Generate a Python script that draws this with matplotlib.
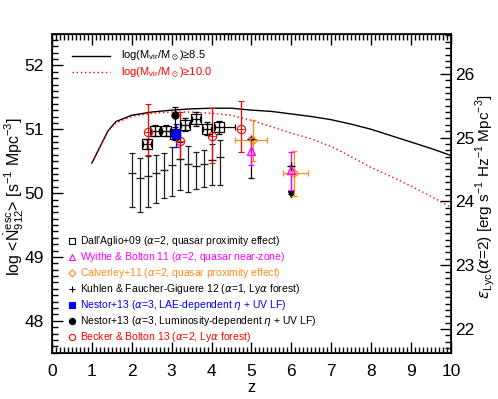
import matplotlib
matplotlib.use("Agg")
import matplotlib.pyplot as plt
from matplotlib.ticker import MultipleLocator

plt.rcParams['font.family'] = ['Liberation Sans', 'DejaVu Sans']
plt.rcParams['mathtext.fontset'] = 'custom'
plt.rcParams['mathtext.rm'] = 'Liberation Sans'
plt.rcParams['mathtext.it'] = 'DejaVu Sans:italic'
plt.rcParams['mathtext.fallback'] = 'stixsans'

# model curves
z_curve = [1.0, 1.4, 1.6, 2.0, 2.5, 3.0, 3.5, 4.0, 4.5, 5.0, 5.5, 6.0,
           6.5, 7.0, 7.5, 8.0, 8.5, 9.0, 9.5, 10.0]
n_85 = [50.47, 50.97, 51.12, 51.22, 51.27, 51.30, 51.32, 51.33, 51.33, 51.30,
        51.28, 51.24, 51.20, 51.15, 51.08, 51.00, 50.90, 50.80, 50.70, 50.59]
n_100 = [50.47, 50.97, 51.10, 51.20, 51.25, 51.27, 51.27, 51.25, 51.22, 51.14,
         51.04, 50.94, 50.85, 50.73, 50.57, 50.40, 50.26, 50.11, 49.95, 49.78]

# Dall'Aglio+09
da_z = [2.38, 2.59, 2.86, 3.09, 3.33, 3.61, 3.89, 4.19]
da_n = [50.77, 50.98, 50.98, 50.93, 51.07, 51.16, 51.01, 51.03]
da_zlo = [0.1, 0.1, 0.1, 0.1, 0.1, 0.1, 0.1, 0.1]
da_zhi = [0.1, 0.1, 0.1, 0.1, 0.1, 0.1, 0.1, 0.4]
da_err = [0.08, 0.09, 0.09, 0.1, 0.1, 0.11, 0.1, 0.1]

# Wyithe & Bolton 11
wb_z = [5.0, 6.0]
wb_n = [50.66, 50.36]
wb_lo = [0.22, 0.31]
wb_hi = [0.22, 0.29]

# Calverley+11
cv_z = [5.05, 6.06]
cv_n = [50.83, 50.32]
cv_zlo = [0.45, 0.26]
cv_zhi = [0.34, 0.36]
cv_lo = [0.32, 0.37]
cv_hi = [0.32, 0.34]

# Kuhlen & Faucher-Giguere 12
kf_z = [2.0, 2.2, 2.4, 2.6, 2.8, 3.0, 3.2, 3.4, 3.6, 3.8, 4.0, 4.2]
kf_n = [50.31, 50.24, 50.27, 50.31, 50.36, 50.44, 50.53, 50.45, 50.42, 50.45,
        50.52, 50.56]
kf_top = [50.63, 50.55, 50.58, 50.60, 50.63, 50.72, 50.80, 50.74, 50.65, 50.67,
          50.77, 50.83]
kf_bot = [49.79, 49.71, 49.79, 49.85, 49.92, 49.96, 50.05, 50.02, 50.06, 50.09,
          50.12, 50.13]
kf_hz_z = [5.0, 6.0]
kf_hz_n = [50.84, 50.43]
kf_hz_bot = [50.24, 49.98]

# Nestor+13
nl_z, nl_n, nl_lo, nl_hi = [3.1], [50.93], [0.21], [0.16]
nc_z, nc_n, nc_lo, nc_hi = [3.09], [51.22], [0.25], [0.13]

# Becker & Bolton 13
bb_z = [2.4, 3.2, 4.0, 4.75]
bb_n = [50.96, 50.81, 50.89, 51.0]
bb_lo = [0.37, 0.28, 0.42, 0.36]
bb_hi = [0.44, 0.46, 0.45, 0.44]

orange = '#ff8c1a'
fig = plt.figure(figsize=(4.98, 3.99), dpi=100)
ax = fig.add_axes([0.1044, 0.116, 0.801, 0.800])

ax.plot(z_curve, n_85, color='black', lw=1.0)
ax.plot(z_curve, n_100, color='red', lw=1.0, ls=(0, (1, 2)))

eb = dict(capsize=2.5, elinewidth=0.9, capthick=0.9, ls='none')
kf_lo = [c - b for c, b in zip(kf_n, kf_bot)]
kf_hi = [t - c for c, t in zip(kf_n, kf_top)]
ax.errorbar(kf_z, kf_n, yerr=[kf_lo, kf_hi], color='#222222', marker='_',
            ms=6, **eb)
ax.errorbar(kf_hz_z, kf_hz_n,
            yerr=[[c - b for c, b in zip(kf_hz_n, kf_hz_bot)], [0, 0]],
            color='black', marker='+', ms=6, **eb)
ax.plot(kf_hz_z[1:], kf_hz_bot[1:], marker='v', color='black', ms=4, ls='none')

ax.errorbar(da_z, da_n, xerr=[da_zlo, da_zhi], yerr=da_err, color='black',
            marker='s', mfc='none', ms=6.5, mew=0.9, **eb)
ax.plot(da_z, da_n, marker='+', color='black', ms=6.5, ls='none', mew=0.8)

ax.errorbar(bb_z, bb_n, yerr=[bb_lo, bb_hi], color='red', marker='o',
            mfc='none', ms=6, mew=0.8, **eb)
ax.plot(bb_z, bb_n, marker='+', color='red', ms=6, ls='none', mew=0.6)

ax.errorbar(cv_z, cv_n, xerr=[cv_zlo, cv_zhi], yerr=[cv_lo, cv_hi], color=orange,
            marker='D', mfc='none', ms=4, **eb)
ax.errorbar(wb_z, wb_n, yerr=[wb_lo, wb_hi], color='magenta', marker='^',
            mfc='none', ms=6, **eb)

ax.errorbar(nl_z, nl_n, yerr=[nl_lo, nl_hi], color='blue', marker='s', ms=6, **eb)
ax.errorbar(nc_z, nc_n, yerr=[nc_lo, nc_hi], color='black', marker='o', ms=5, **eb)

ax.set_xlim(0, 10)
ax.set_ylim(47.5, 52.5)
ax.xaxis.set_major_locator(MultipleLocator(1))
ax.xaxis.set_minor_locator(MultipleLocator(0.1))
ax.yaxis.set_major_locator(MultipleLocator(1))
ax.yaxis.set_minor_locator(MultipleLocator(0.1))
ax.tick_params(which='both', direction='in', top=True, right=False,
               labelsize=12.5, width=1.0)
ax.tick_params(axis='x', which='major', pad=8)
ax.tick_params(axis='y', which='major', pad=6)
ax.tick_params(which='major', length=8)
ax.tick_params(which='minor', length=4)
for s in ax.spines.values():
    s.set_linewidth(1.2)
ax.set_xlabel('z', fontsize=12, va='center')
ax.xaxis.set_label_coords(0.5, -0.11)
ax.set_ylabel(r'log <$\dot{\rm N}^{\rm esc}_{912}$> [s$^{-1}$ Mpc$^{-3}$]',
              fontsize=11.5, va='center')
ax.yaxis.set_label_coords(-0.095, 0.49)

ax2 = ax.twinx()
off = 25.87
ax2.set_ylim(47.5 - off, 52.5 - off)
ax2.yaxis.set_major_locator(MultipleLocator(1))
ax2.yaxis.set_minor_locator(MultipleLocator(0.1))
ax2.tick_params(which='both', direction='in', labelsize=12.5, width=1.0)
ax2.tick_params(which='major', length=8, pad=3)
ax2.tick_params(which='minor', length=4)
ax2.set_ylabel(r'$\epsilon_{\rm Lyc}(\alpha$=2) [erg s$^{-1}$ Hz$^{-1}$ Mpc$^{-3}$]',
               fontsize=11, va='center')
ax2.yaxis.set_label_coords(1.085, 0.49)

# model legend
ax.plot([0.05, 0.145], [0.93, 0.93], color='black', lw=1.0, transform=ax.transAxes)
ax.plot([0.05, 0.145], [0.878, 0.878], color='red', lw=1.0, ls=(0, (1, 2)),
        transform=ax.transAxes)
ax.text(0.172, 0.93, r'log(M$_{\rm vir}$/M$_\odot$)≥8.5', fontsize=8,
        va='center', transform=ax.transAxes)
ax.text(0.172, 0.878, r'log(M$_{\rm vir}$/M$_\odot$)≥10.0', fontsize=8,
        va='center', color='red', transform=ax.transAxes)

# data legend
labels = [r"Dall'Aglio+09 ($\alpha$=2, quasar proximity effect)",
          r"Wyithe & Bolton 11 ($\alpha$=2, quasar near-zone)",
          r"Calverley+11 ($\alpha$=2, quasar proximity effect)",
          r"Kuhlen & Faucher-Giguere 12 ($\alpha$=1, Ly$\alpha$ forest)",
          r"Nestor+13 ($\alpha$=3, LAE-dependent $\eta$ + UV LF)",
          r"Nestor+13 ($\alpha$=3, Luminosity-dependent $\eta$ + UV LF)",
          r"Becker & Bolton 13 ($\alpha$=2, Ly$\alpha$ forest)"]
lcolors = ['black', 'magenta', orange, 'black', 'blue', 'black', 'red']
lmarkers = [('s', 'none'), ('^', 'none'), ('D', 'none'), ('+', None),
            ('s', 'blue'), ('o', 'black'), ('o', 'none')]
y0 = 0.349
for i, (lab, c, (m, fc)) in enumerate(zip(labels, lcolors, lmarkers)):
    yy = y0 - i * 0.0497
    kw = dict(mfc=fc) if fc is not None else {}
    ax.plot([0.05], [yy], marker=m, color=c, ms=4.5 if m != 'D' else 3.5,
            mew=0.8, ls='none', transform=ax.transAxes, **kw)
    ax.text(0.07, yy, lab, fontsize=7.5, color=c, va='center',
            transform=ax.transAxes)

fig.savefig('out.png', dpi=100)
